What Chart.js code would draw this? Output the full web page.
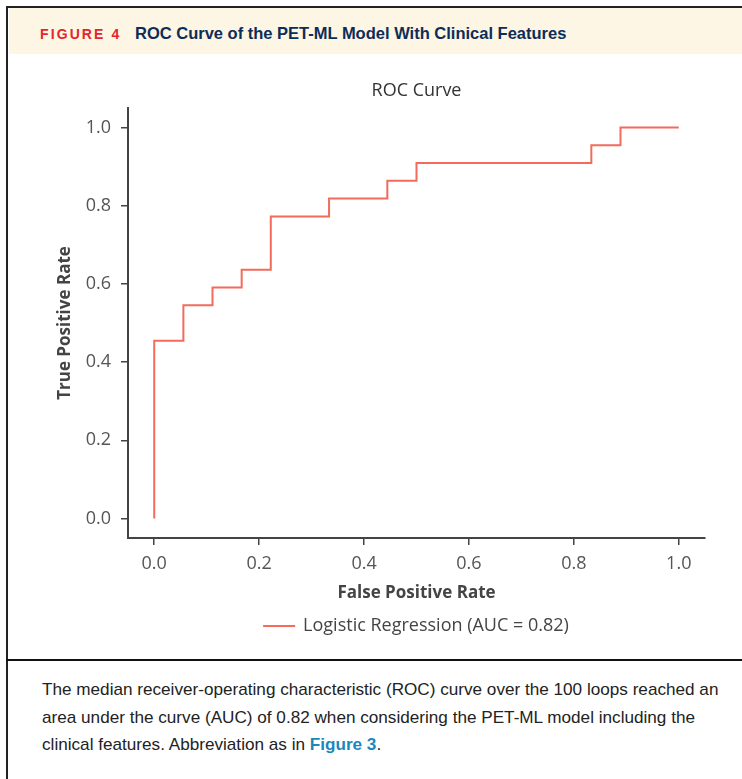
<!DOCTYPE html>
<html>
<head>
<meta charset="utf-8">
<script src="https://cdn.jsdelivr.net/npm/chart.js@4/dist/chart.umd.min.js"></script>
<style>
  body { margin: 0; background: #fff; width: 742px; height: 779px; overflow: hidden; position: relative; }
  .frame { position: absolute; left: 6px; top: 6px; width: 740px; height: 780px; border-left: 2px solid #222; border-top: 2px solid #222; }
  .header { position: absolute; left: 9px; top: 8px; width: 733px; height: 46px; background: #fdf6e4; }
  .header .fig { position: absolute; left: 31px; top: 18px; font: bold 14px 'Liberation Sans', sans-serif; letter-spacing: 2.1px; color: #e3262d; }
  .header .ttl { position: absolute; left: 126px; top: 16px; font: bold 16.5px 'Liberation Sans', sans-serif; color: #0d2d59; }
  .divider { position: absolute; left: 6px; top: 659px; width: 736px; height: 2px; background: #111; }
  .caption { position: absolute; left: 42px; top: 676px; font: 17.15px 'Liberation Sans', sans-serif; line-height: 27.5px; color: #222; white-space: nowrap; }
  .caption b { color: #1a87bd; }
  #wrap { position: absolute; left: 0; top: 60px; }
</style>
</head>
<body>
<div class="frame"></div>
<div class="header"><span class="fig">FIGURE 4</span><span class="ttl">ROC Curve of the PET-ML Model With Clinical Features</span></div>
<div id="wrap"><canvas id="roc" width="742" height="585"></canvas></div>
<div class="divider"></div>
<div class="caption">The median receiver-operating characteristic (ROC) curve over the 100 loops reached an<br>area under the curve (AUC) of 0.82 when considering the PET-ML model including the<br>clinical features. Abbreviation as in <b>Figure 3</b>.</div>
<script>
// ROC curve corner points
const fpr = [0, 0, 0.0556, 0.0556, 0.1111, 0.1111, 0.1667, 0.1667, 0.2222, 0.2222, 0.3333, 0.3333, 0.4444, 0.4444, 0.5, 0.5, 0.8333, 0.8333, 0.8889, 0.8889, 1.0];
const tpr = [0, 0.4545, 0.4545, 0.5455, 0.5455, 0.5909, 0.5909, 0.6364, 0.6364, 0.7727, 0.7727, 0.8182, 0.8182, 0.8636, 0.8636, 0.9091, 0.9091, 0.9545, 0.9545, 1.0, 1.0];
const xTicks = [0, 0.2, 0.4, 0.6, 0.8, 1.0];
const yTicks = [0, 0.2, 0.4, 0.6, 0.8, 1.0];

const font = "'Open Sans', sans-serif";
const ctx = document.getElementById('roc').getContext('2d');

const roc = new Chart(ctx, {
    type: 'line',
    data: {
        datasets: [{
            label: 'Logistic Regression (AUC = 0.82)',
            data: fpr.map((x, i) => ({ x: x, y: tpr[i] })),
            borderColor: '#f26b5b',
            backgroundColor: '#f26b5b',
            borderWidth: 2,
            pointRadius: 0,
            tension: 0,
            fill: false
        }]
    },
    options: {
        responsive: false,
        animation: false,
        layout: { padding: { left: 0, right: 37, top: 0, bottom: 0 } },
        plugins: {
            title: {
                display: true,
                fullSize: false,
                text: 'ROC Curve',
                color: '#333',
                font: { family: font, size: 18, weight: 'normal' },
                padding: { top: 20, bottom: 6.4 }
            },
            legend: {
                position: 'bottom',
                fullSize: false,
                labels: {
                    boxWidth: 30,
                    boxHeight: 0.01,
                    padding: 14,
                    color: '#444',
                    font: { family: font, size: 18 }
                }
            },
            tooltip: { enabled: false }
        },
        scales: {
            x: {
                type: 'linear',
                min: -0.05,
                max: 1.05,
                afterBuildTicks: s => { s.ticks = xTicks.map(v => ({ value: v })); },
                afterFit: s => { s.height = 65; },
                ticks: {
                    padding: 8,
                    color: '#555',
                    font: { family: font, size: 18 },
                    callback: v => v.toFixed(1)
                },
                grid: { drawOnChartArea: false, color: '#444', lineWidth: 1.5, tickLength: 7 },
                border: { color: '#444', width: 2 },
                title: {
                    display: true,
                    text: 'False Positive Rate',
                    color: '#444',
                    font: { family: font, size: 17, weight: 'bold' },
                    padding: { top: 0, bottom: 0 }
                }
            },
            y: {
                type: 'linear',
                min: -0.05,
                max: 1.05,
                afterBuildTicks: s => { s.ticks = yTicks.map(v => ({ value: v })); },
                afterFit: s => { s.width = 128; },
                ticks: {
                    padding: 10,
                    color: '#555',
                    font: { family: font, size: 18 },
                    callback: v => v.toFixed(1)
                },
                grid: { drawOnChartArea: false, color: '#444', lineWidth: 1.5, tickLength: 7 },
                border: { color: '#444', width: 2 },
                title: {
                    display: true,
                    text: 'True Positive Rate',
                    color: '#444',
                    font: { family: font, size: 17, weight: 'bold' },
                    padding: { top: 55, bottom: 0 }
                }
            }
        }
    }
});
</script>
</body>
</html>
